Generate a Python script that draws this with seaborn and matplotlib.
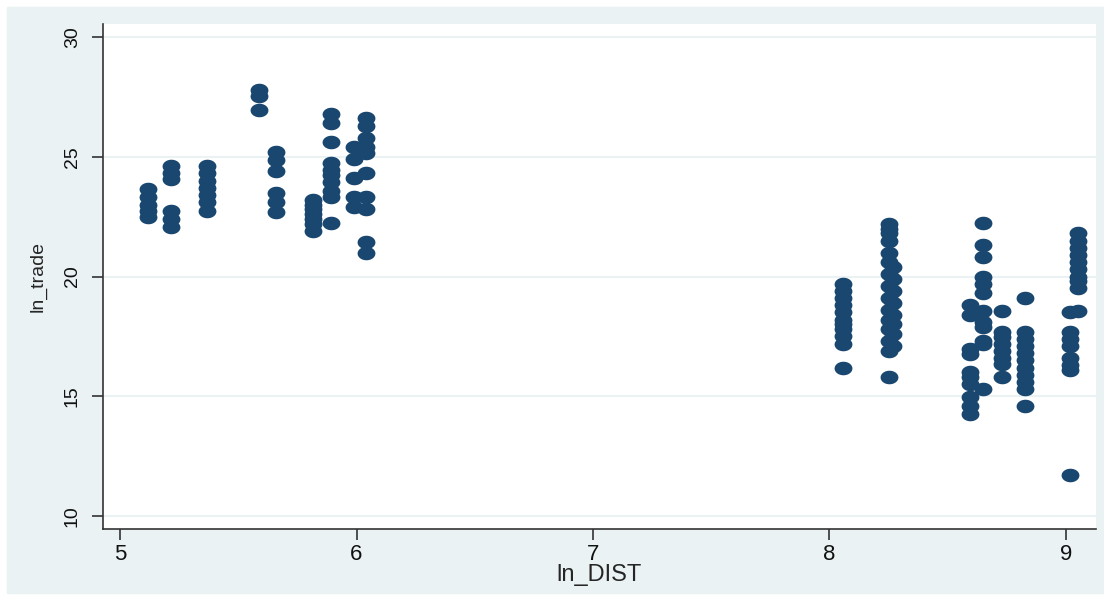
import numpy as np
import pandas as pd
import seaborn as sns
import matplotlib.pyplot as plt
from matplotlib.patches import Rectangle

# ln_DIST value of each vertical stack of points
dist_cols = [5.118, 5.216, 5.368, 5.588, 5.660, 5.816, 5.892, 5.989, 6.040,
             8.057, 8.250, 8.270, 8.594, 8.650, 8.730, 8.826, 9.017, 9.050]

# ln_trade values in each stack (same order as dist_cols)
trade_cols = [
    [23.65, 23.3, 23.0, 22.75, 22.5],
    [24.6, 24.3, 24.05, 22.75, 22.4, 22.05],
    [24.6, 24.3, 24.0, 23.7, 23.4, 23.1, 22.75],
    [27.8, 27.55, 26.95],
    [25.2, 24.87, 24.4, 23.5, 23.1, 22.7],
    [23.2, 23.0, 22.8, 22.6, 22.4, 22.2, 21.9],
    [26.8, 26.4, 25.6, 24.75, 24.46, 24.25, 23.96, 23.55, 23.3, 22.25],
    [25.4, 24.9, 24.1, 23.3, 22.9],
    [26.6, 26.3, 25.8, 25.4, 25.15, 24.3, 23.3, 22.8, 21.45, 21.0],
    [19.7, 19.4, 19.1, 18.8, 18.5, 18.2, 18.0, 17.8, 17.5, 17.2, 16.2],
    [22.2, 22.0, 21.8, 21.5, 21.0, 20.6, 20.1, 19.6, 19.1, 18.6, 18.2,
     17.8, 17.3, 16.9, 15.8],
    [20.4, 19.9, 19.4, 18.9, 18.4, 18.0, 17.6, 17.1],
    [18.8, 18.4, 16.96, 16.75, 16.0, 15.8, 15.5, 14.96, 14.6, 14.25],
    [22.25, 21.33, 20.8, 19.96, 19.67, 19.33, 18.54, 18.1, 17.9, 17.3,
     17.2, 15.3],
    [18.54, 17.7, 17.46, 17.17, 16.9, 16.6, 16.33, 15.8],
    [19.1, 17.7, 17.4, 17.1, 16.8, 16.5, 16.2, 15.9, 15.6, 15.3, 14.6],
    [18.5, 17.7, 17.4, 17.1, 16.6, 16.3, 16.1, 11.7],
    [21.8, 21.5, 21.2, 20.9, 20.6, 20.3, 20.0, 19.8, 19.5, 18.55],
]

rows = []
for d, ts in zip(dist_cols, trade_cols):
    for t in ts:
        rows.append((d, t))
df = pd.DataFrame(rows, columns=["ln_DIST", "ln_trade"])

sns.set_style("white")
plt.rcParams["font.family"] = ["Liberation Sans", "DejaVu Sans"]

bg = "#EAF2F3"
navy = "#1A476F"

fig = plt.figure(figsize=(11.04, 5.95), dpi=100)
fig.patch.set_facecolor("white")
fig.patches.append(Rectangle((7 / 1104, 2 / 595), 1, 586 / 595,
                             transform=fig.transFigure, color=bg, zorder=-10))
ax = fig.add_axes([103 / 1104, 66 / 595, 993 / 1104, 505 / 595])
ax.set_facecolor("white")

# Stata dots look slightly wider than tall in the picture
t = np.linspace(0, 2 * np.pi, 60)
ellipse = np.column_stack([np.cos(t), 0.76 * np.sin(t)])

sns.scatterplot(data=df, x="ln_DIST", y="ln_trade", ax=ax, color=navy,
                marker=ellipse, s=165, linewidth=0, zorder=3)

ax.set_xlim(4.928, 9.127)
ax.set_ylim(9.46, 30.54)
ax.set_xticks([5, 6, 7, 8, 9])
ax.set_yticks([10, 15, 20, 25, 30])
ax.grid(axis="y", color=bg, linewidth=1.5, zorder=0)
ax.grid(axis="x", visible=False)

for side in ["top", "right"]:
    ax.spines[side].set_visible(False)
for side in ["left", "bottom"]:
    ax.spines[side].set_color("#333333")
    ax.spines[side].set_linewidth(1.2)

ax.tick_params(axis="both", direction="out", length=8, width=1.2,
               color="#333333", labelcolor="#111111",
               left=True, bottom=True)
ax.tick_params(axis="x", labelsize=16, pad=3)
ax.tick_params(axis="y", labelsize=14, pad=8)
for lab in ax.get_yticklabels():
    lab.set_rotation(90)
    lab.set_va("center")

ax.set_xlabel("ln_DIST", fontsize=17, labelpad=-1)
ax.set_ylabel("ln_trade", fontsize=14, labelpad=12)

fig.savefig("out.png", dpi=100, facecolor=fig.get_facecolor())
